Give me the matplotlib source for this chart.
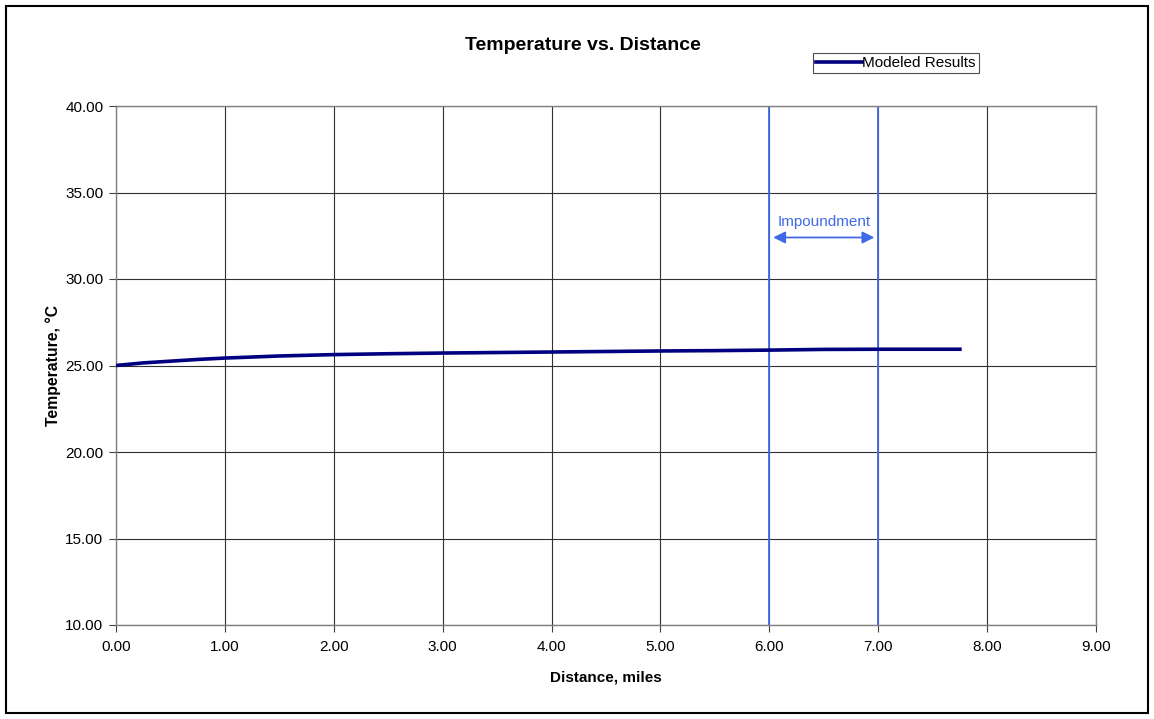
import matplotlib
matplotlib.use("Agg")
import matplotlib.pyplot as plt
from matplotlib.patches import Rectangle

plt.rcParams['font.family'] = ['Liberation Sans', 'DejaVu Sans']

distance = [0.0, 0.25, 0.5, 0.75, 1.0, 1.5, 2.0, 2.5, 3.0, 3.5, 4.0, 4.5, 5.0, 5.5, 6.0, 6.5, 7.0, 7.5, 7.75]
temperature = [25.0, 25.15, 25.25, 25.35, 25.43, 25.55, 25.63, 25.68, 25.72, 25.75, 25.78, 25.81, 25.84, 25.86, 25.89, 25.93, 25.94, 25.94, 25.94]
impound_bounds = [6.0, 7.0]
x_ticks = [0, 1, 2, 3, 4, 5, 6, 7, 8, 9]
y_ticks = [10, 15, 20, 25, 30, 35, 40]

W, H = 1154, 719
fig = plt.figure(figsize=(W/100, H/100), dpi=100)
ax = fig.add_axes([116/W, 1-625/H, (1096-116)/W, (625-106)/H])

ax.set_xlim(0, 9)
ax.set_ylim(10, 40)
ax.set_xticks(x_ticks)
ax.set_yticks(y_ticks)
ax.set_xticklabels([f"{v:.2f}" for v in x_ticks], fontsize=11)
ax.set_yticklabels([f"{v:.2f}" for v in y_ticks], fontsize=11)
ax.grid(True, color='#303030', linewidth=0.8)
ax.set_axisbelow(True)
for s in ax.spines.values():
    s.set_color('#808080')
    s.set_linewidth(1.0)
ax.tick_params(axis='y', direction='out', length=5, color='#404040', pad=4)
ax.tick_params(axis='x', direction='out', length=5, color='#404040', pad=6)

for b in impound_bounds:
    ax.axvline(b, color='#3f6ae6', linewidth=1.3, zorder=2)

line, = ax.plot(distance, temperature, color='#000080', linewidth=2.6, label='Modeled Results', zorder=3)

ax.annotate('', xy=(impound_bounds[0] + 0.01, 32.4), xytext=(impound_bounds[1] - 0.01, 32.4),
            arrowprops=dict(arrowstyle='<|-|>', color='#3f6ae6', lw=1.3, mutation_scale=18))
ax.text(sum(impound_bounds)/2, 33.3, 'Impoundment', color='#3f6ae6', fontsize=11,
        ha='center', va='center')

ax.set_xlabel('Distance, miles', fontsize=11, fontweight='bold', labelpad=12)
ax.set_ylabel('Temperature, °C', fontsize=11.3, fontweight='bold', labelpad=3)

fig.text(583/W, 1-46/H, 'Temperature vs. Distance', fontsize=14, fontweight='bold',
         ha='center', va='center')

leg = fig.legend(handles=[line], loc='center', bbox_to_anchor=(896/W, 1-63/H),
                 fontsize=11, frameon=True, fancybox=False, edgecolor='#202020',
                 handlelength=3.0, handletextpad=0.0, borderpad=0.2, borderaxespad=0)
leg.get_frame().set_linewidth(0.8)

fig.patches.append(Rectangle((6/W, 6/H), (1148-6)/W, (713-6)/H, transform=fig.transFigure,
                             fill=False, edgecolor='black', linewidth=1.5))

fig.savefig('out.png', dpi=100)
